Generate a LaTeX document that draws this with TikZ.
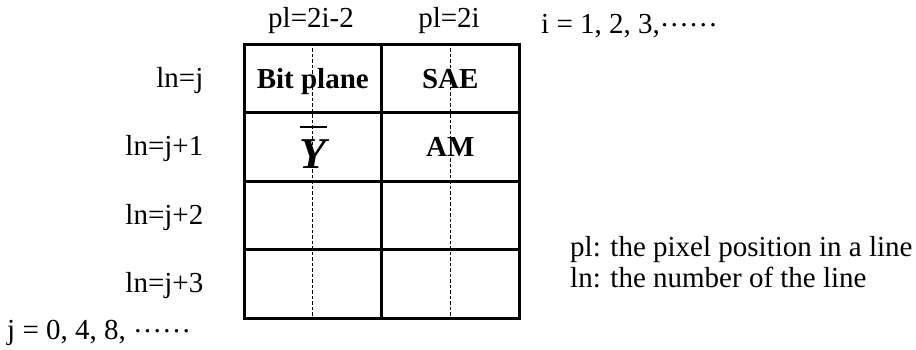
\documentclass[tikz,border=0pt]{standalone}
\usepackage{fontspec}
\setmainfont{Liberation Serif}
\newcommand{\middots}{\raisebox{7pt}{……}}
\begin{document}
\begin{tikzpicture}[x=1pt, y=-1pt,
    cell/.style={draw, line width=3pt, minimum width=137.5pt, minimum height=68.5pt, inner sep=0pt},
    lbl/.style={inner sep=0pt, font=\fontsize{29}{31}\selectfont},
    entry/.style={lbl, anchor=base, font=\bfseries\fontsize{29}{31}\selectfont},
    guide/.style={line width=1pt, dash pattern=on 3.5pt off 2pt},
    bar/.style={line width=2pt}]
    \useasboundingbox (0,0) rectangle (916,349);

    % cells
    \foreach \r/\y in {1/78.25,2/146.75,3/215.25,4/283.75}{
        \node[cell] (c-\r-1) at (312.75,\y) {};
        \node[cell] (c-\r-2) at (450.25,\y) {};
    }
    \draw[guide] (c-1-1.north) -- (c-4-1.south);
    \draw[guide] (c-1-2.north) -- (c-4-2.south);

    % entries
    \node[entry] (bitplane) at ([yshift=-10pt]c-1-1.center) {Bit plane};
    \node[entry] (sae) at ([yshift=-10pt]c-1-2.center) {SAE};
    \node[entry] (am) at ([yshift=-10pt]c-2-2.center) {AM};
    \node[lbl, anchor=base, font=\bfseries\itshape\fontsize{44}{44}\selectfont] (ybar) at (313,168) {Y};
    \draw[bar] ([shift={(-13,-41)}]ybar.base) -- ([shift={(14,-41)}]ybar.base);

    % column labels
    \node[lbl, anchor=base] (pl-a) at (311,27) {pl=2i-2};
    \node[lbl, anchor=base] (pl-b) at (449,27) {pl=2i};
    \node[lbl, anchor=base west] (irange) at (541,33) {i = 1, 2, 3,\middots};

    % line labels
    \foreach \r/\t in {1/j,2/j+1,3/j+2,4/j+3}{
        \node[lbl, anchor=east] (ln-\r) at ([xshift=-39pt,yshift=-2pt]c-\r-1.west) {ln=\t};
    }
    \node[lbl, anchor=base west] (jrange) at (7,339) {j = 0, 4, 8, \middots};

    % legend
    \node[lbl, anchor=base west] (leg-pl) at (570,256) {pl: the pixel position in a line};
    \node[lbl, anchor=base west] (leg-ln) at (570,287) {ln: the number of the line};
\end{tikzpicture}
\end{document}
